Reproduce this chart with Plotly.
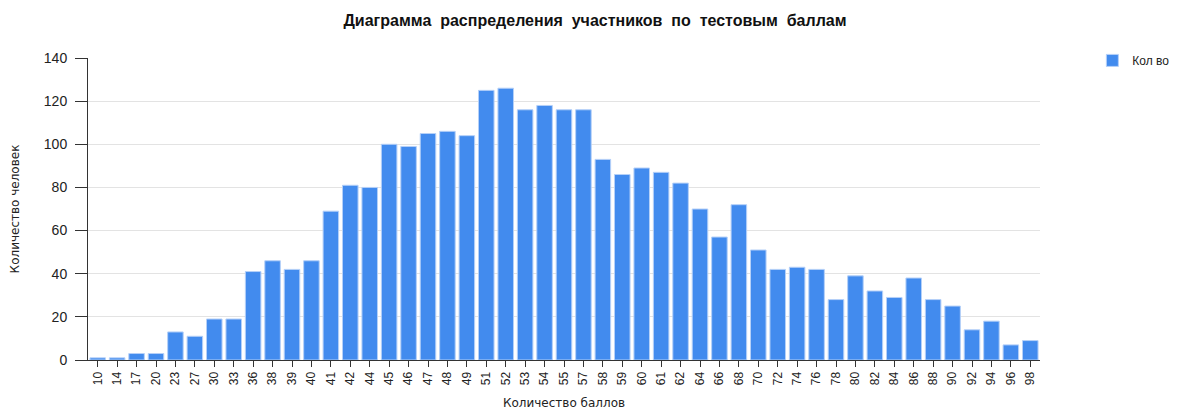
import plotly.graph_objects as go

categories = ["10", "14", "17", "20", "23", "27", "30", "33", "36", "38", "39", "40", "41", "42",
              "44", "45", "46", "47", "48", "49", "51", "52", "53", "54", "55", "57", "58", "59",
              "60", "61", "62", "64", "66", "68", "70", "72", "74", "76", "78", "80", "82", "84",
              "86", "88", "90", "92", "94", "96", "98"]
counts = [1, 1, 3, 3, 13, 11, 19, 19, 41, 46, 42, 46, 69, 81,
          80, 100, 99, 105, 106, 104, 125, 126, 116, 118, 116, 116, 93, 86,
          89, 87, 82, 70, 57, 72, 51, 42, 43, 42, 28, 39, 32, 29,
          38, 28, 25, 14, 18, 7, 9]
y_ticks = [0, 20, 40, 60, 80, 100, 120, 140]

FONT = "Liberation Sans, Arial, sans-serif"
AXFONT = "DejaVu Sans, Verdana, sans-serif"

fig = go.Figure()
fig.add_trace(go.Bar(
    x=categories, y=counts, name="Кол во",
    marker=dict(color="#428bee", line=dict(color="#b5d0f8", width=1)),
))

fig.update_layout(
    width=1174, height=402,
    paper_bgcolor="white", plot_bgcolor="white",
    margin=dict(l=80, r=142, t=50, b=50, autoexpand=False),
    bargap=0.2,
    font=dict(family=FONT, size=12, color="#222"),
    title=dict(text="<b>Диаграмма  распределения  участников  по  тестовым  баллам</b>",
               x=0.5, xref="container", xanchor="center", yref="container", y=0.97, yanchor="middle",
               font=dict(family=FONT, size=16, color="#111")),
    showlegend=True,
    legend=dict(x=1.055, y=1.04, xanchor="left", yanchor="top",
                font=dict(family=FONT, size=12, color="#222"),
                bgcolor="rgba(0,0,0,0)"),
    xaxis=dict(
        type="category", tickangle=-90, automargin=False,
        ticks="outside", ticklen=6, tickcolor="#333",
        showline=True, linecolor="#333", linewidth=1,
        tickfont=dict(family=FONT, size=12, color="#222"),
        title=dict(text="Количество баллов", font=dict(family=AXFONT, size=12, color="#222"), standoff=24),
        showgrid=False,
    ),
    yaxis=dict(
        range=[0, 140], tickvals=y_ticks, automargin=False,
        ticks="outside", ticklen=12, tickcolor="#333", ticklabelstandoff=5,
        showline=True, linecolor="#333", linewidth=1,
        gridcolor="#e3e3e3", zeroline=False,
        tickfont=dict(family=FONT, size=14, color="#222"),
        title=dict(text="Количество человек", font=dict(family=AXFONT, size=12, color="#222"), standoff=23),
    ),
)

fig.write_html("out.html")
